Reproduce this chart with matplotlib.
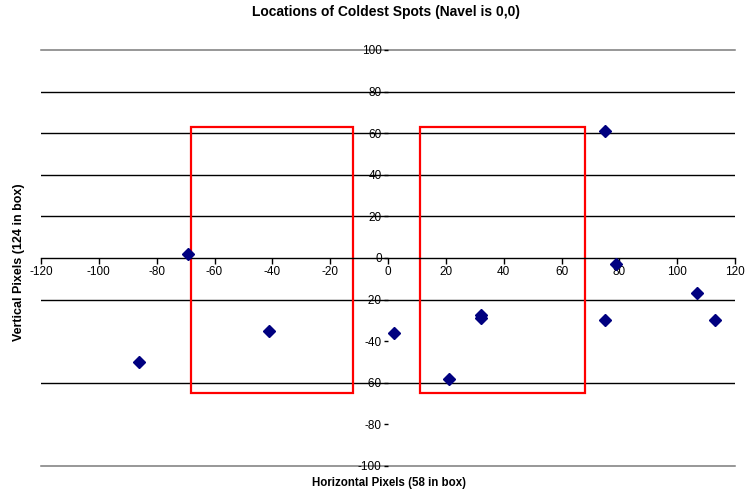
import matplotlib
matplotlib.use("Agg")
import matplotlib.pyplot as plt
from matplotlib.patches import Rectangle

plt.rcParams['font.family'] = ['Liberation Sans', 'DejaVu Sans']

# Data: coldest spot locations (pixels, navel at 0,0)
x_vals = [-69, -86, -41, 2, 21, 32, 32, 75, 79, 75, 107, 113]
y_vals = [2, -50, -35, -36, -58, -27.5, -29, 61, -3, -30, -17, -30]

# Red boxes: (x0, x1, y0, y1)
box_left = [-68, -12, -65, 63]
box_right = [11, 68, -65, 63]

x_ticks = list(range(-120, 121, 20))
y_ticks = list(range(-100, 101, 20))
grid_black = [80, 60, 40, 20, -20, -60]
grid_gray = [100, -100]

fig = plt.figure(figsize=(7.5, 4.95), dpi=100)
ax = fig.add_axes([41/750, 1-466/495, (735-41)/750, (466-50)/495])
ax.set_xlim(-120, 120)
ax.set_ylim(-100, 100)

for g in grid_black:
    ax.axhline(g, color='black', lw=1.0, zorder=1)
for g in grid_gray:
    ax.axhline(g, color='#7a7a7a', lw=1.1, zorder=1, clip_on=False)

for b in (box_left, box_right):
    ax.add_patch(Rectangle((b[0], b[2]), b[1]-b[0], b[3]-b[2], fill=False,
                           edgecolor='#FF0000', lw=1.6, zorder=2))

ax.plot(x_vals, y_vals, linestyle='none', marker='D', ms=6.2,
        color='#000080', mec='#000080', zorder=3)

for s in ['top', 'right']:
    ax.spines[s].set_visible(False)
ax.spines['bottom'].set_position(('data', 0))
ax.spines['bottom'].set_color('black')
ax.spines['bottom'].set_linewidth(1.0)
ax.spines['left'].set_position(('data', 0))
ax.spines['left'].set_visible(False)

ax.set_xticks(x_ticks)
ax.set_xticklabels([str(v) for v in x_ticks])
ax.set_yticks(y_ticks)
ax.set_yticklabels([str(v) for v in y_ticks])
ax.tick_params(axis='x', direction='out', length=4, width=1, pad=2, labelsize=8.5)
ax.tick_params(axis='y', direction='out', length=3, width=1, pad=1.5, labelsize=8.5)

fig.text(386/750, 1-12/495, 'Locations of Coldest Spots (Navel is 0,0)',
         ha='center', va='center', fontsize=10, fontweight='bold')
fig.text(389/750, 1-483/495, 'Horizontal Pixels (58 in box)',
         ha='center', va='center', fontsize=8.3, fontweight='bold')
fig.text(19/750, 1-262/495, 'Vertical Pixels (124 in box)', rotation=90,
         ha='center', va='center', fontsize=9, fontweight='bold')

fig.savefig('out.png', dpi=100)
